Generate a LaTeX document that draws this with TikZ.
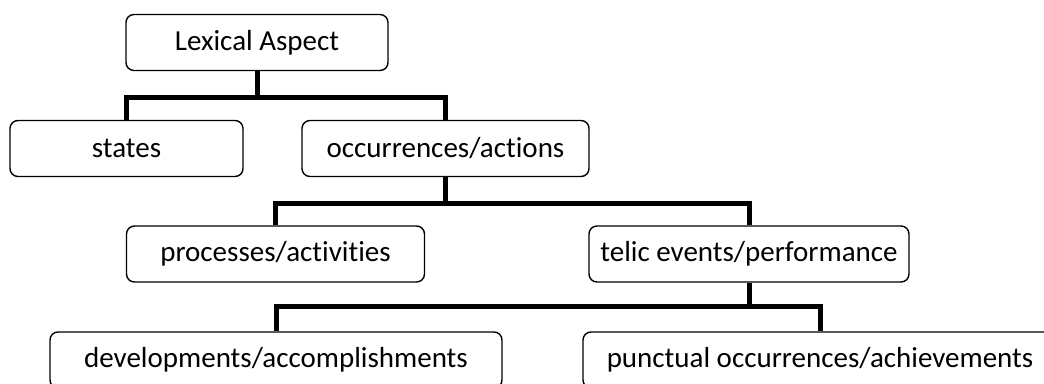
\documentclass[tikz,border=0pt]{standalone}
\usepackage{fontspec}
\setmainfont{Carlito}[Ligatures=NoCommon]
\usetikzlibrary{positioning}

\begin{document}
\begin{tikzpicture}[x=1pt,y=-1pt,
  box/.style={draw,line width=1.4pt,rounded corners=8pt,fill=white,
    inner sep=0pt,minimum height=56pt,font=\fontsize{29}{35}\selectfont},
  link/.style={line width=5pt}]
  \useasboundingbox (0,0) rectangle (1044,383);
  \clip (0,0) rectangle (1044,383);
  \node[box,minimum width=262pt] (lex) at (257,42.5){Lexical Aspect};
  \node[box,minimum width=233pt] (states) at (126.5,148.5){states};
  \node[box,minimum width=287pt] (occ) at (445.5,148.5){occurrences/actions};
  \node[box,minimum width=298pt] (proc) at (275.5,254){processes/activities};
  \node[box,minimum width=320pt] (telic) at (749,254){telic events/performance};
  \node[box,minimum width=452pt] (dev) at (276,360){developments/accomplishments};
  \node[box,minimum width=474pt] (punct) at (820,360){punctual occurrences/achievements};
  \draw[link] (lex.south) -- ++(0,26) -| (states.north);
  \draw[link] (lex.south) -- ++(0,26) -| (occ.north);
  \draw[link] (occ.south) -- ++(0,26) -| (proc.north);
  \draw[link] (occ.south) -- ++(0,26) -| (telic.north);
  \draw[link] (telic.south) -- ++(0,24) -| (dev.north);
  \draw[link] (telic.south) -- ++(0,24) -| (punct.north);
\end{tikzpicture}
\end{document}
